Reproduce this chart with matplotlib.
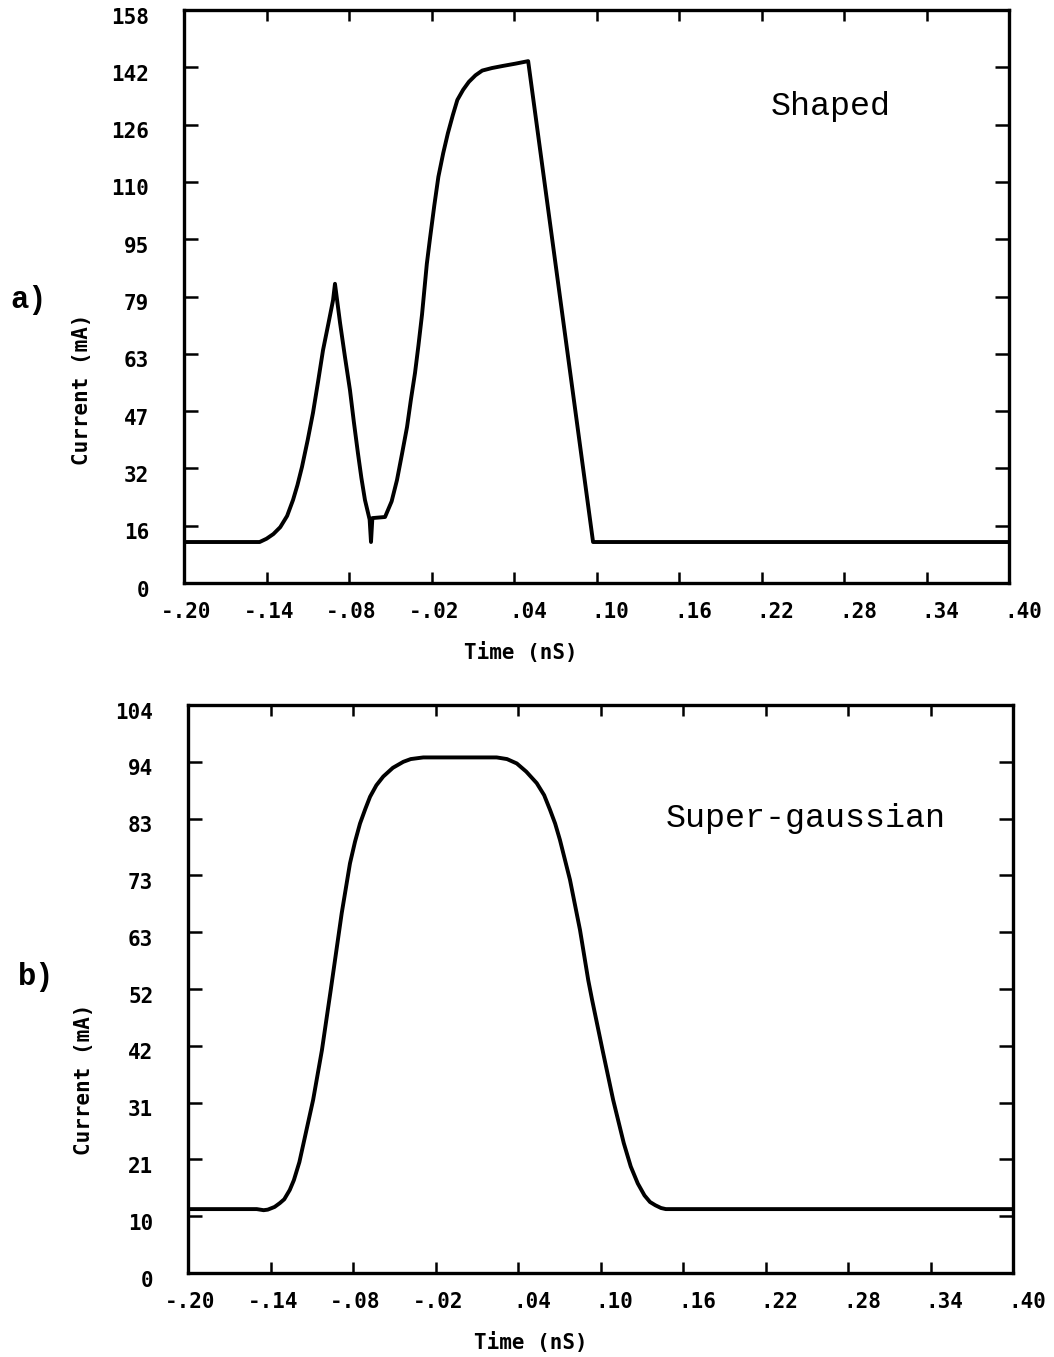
import matplotlib
matplotlib.use("Agg")
import matplotlib.pyplot as plt
from matplotlib.transforms import ScaledTranslation

# a) shaped pulse (time in nS, current in mA)
t_shaped = [-0.200, -0.145, -0.140, -0.135, -0.130, -0.125, -0.1207, -0.1175,
            -0.1142, -0.1100, -0.1062, -0.1025, -0.0989, -0.0950, -0.0916,
            -0.0902, -0.0865, -0.0830, -0.0793, -0.0765, -0.0735, -0.0710,
            -0.0684, -0.0650, -0.0640, -0.0630, -0.0538, -0.0490, -0.0451,
            -0.0415, -0.0378, -0.0350, -0.0320, -0.0295, -0.0269, -0.0234,
            -0.0211, -0.0180, -0.0150, -0.0115, -0.0081, -0.0045, -0.0012,
            0.0030, 0.0072, 0.0120, 0.0169, 0.0240, 0.0322, 0.0410, 0.0503,
            0.0975, 0.400]
i_shaped = [11.3, 11.3, 12.2, 13.5, 15.4, 18.5, 22.9, 27.0,
            32.0, 39.5, 46.9, 55.5, 64.2, 71.5, 78.0,
            82.5, 71.7, 62.5, 53.2, 44.5, 35.8, 29.0,
            22.9, 17.5, 11.3, 17.9, 18.2, 22.5, 28.4,
            35.5, 43.0, 50.5, 57.9, 65.5, 74.0, 88.0,
            95.0, 104.0, 112.0, 118.5, 124.0, 129.0, 133.2,
            136.0, 138.2, 140.0, 141.3, 142.0, 142.6, 143.2, 143.9,
            11.3, 11.3]

# b) super-gaussian pulse
t_sg = [-0.200, -0.150, -0.145, -0.142, -0.137, -0.1332, -0.130, -0.126,
        -0.1230, -0.1190, -0.1154, -0.1090, -0.1026, -0.0962, -0.0882,
        -0.0822, -0.0785, -0.0749, -0.0710, -0.0676, -0.0630, -0.0580,
        -0.0510, -0.0434, -0.0380, -0.0289, 0.0245, 0.0320, 0.0391,
        0.0460, 0.0536, 0.0590, 0.0633, 0.0670, 0.0705, 0.0778, 0.0851,
        0.0911, 0.0939, 0.1015, 0.1092, 0.1169, 0.1220, 0.1271, 0.1320,
        0.1360, 0.1399, 0.1440, 0.1475, 0.400]
i_sg = [11.7, 11.7, 11.5, 11.6, 12.1, 12.8, 13.5, 15.2,
        17.0, 20.3, 24.4, 31.7, 40.8, 51.8, 65.9,
        75.0, 79.0, 82.3, 85.0, 87.2, 89.3, 90.9,
        92.5, 93.6, 94.1, 94.4, 94.4, 94.1, 93.3,
        91.8, 89.7, 87.5, 84.8, 82.3, 79.3, 72.0, 62.8,
        53.6, 50.0, 40.8, 31.7, 23.8, 19.5, 16.4, 14.2,
        13.0, 12.4, 11.9, 11.7, 11.7]

x_ticks = [-0.20, -0.14, -0.08, -0.02, 0.04, 0.10, 0.16, 0.22, 0.28, 0.34, 0.40]
x_labels = ['-.20', '-.14', '-.08', '-.02', '.04', '.10', '.16', '.22', '.28', '.34', '.40']

a_yticks = [0, 15.8, 31.6, 47.4, 63.2, 79.0, 94.8, 110.6, 126.4, 142.2, 158.0]
a_ylabels = ['0', '16', '32', '47', '63', '79', '95', '110', '126', '142', '158']
b_yticks = [0, 10.4, 20.8, 31.2, 41.6, 52.0, 62.4, 72.8, 83.2, 93.6, 104.0]
b_ylabels = ['0', '10', '21', '31', '42', '52', '63', '73', '83', '94', '104']

W, H = 1054, 1357
fig = plt.figure(figsize=(W / 100, H / 100), dpi=100)

tickfont = dict(family='DejaVu Sans Mono', weight='bold', size=15)


def panel(left, top, right, bottom, t, cur, yticks, ylabels, note, note_xy):
    ax = fig.add_axes([left / W, 1 - bottom / H, (right - left) / W, (bottom - top) / H])
    ax.plot(t, cur, color='black', lw=2.8, solid_joinstyle='round')
    ax.set_xlim(-0.20, 0.40)
    ax.set_ylim(0, yticks[-1])
    for s in ax.spines.values():
        s.set_linewidth(2.4)
    ax.set_xticks(x_ticks)
    ax.set_xticklabels(x_labels, ha='left', **tickfont)
    ax.set_yticks(yticks)
    ax.set_yticklabels(ylabels, **tickfont)
    ax.tick_params(axis='x', direction='in', length=8, width=1.8, top=True, pad=14)
    ax.tick_params(axis='y', direction='in', length=10, width=1.8, right=True, pad=25)
    # put the decimal point under the tick, like the plotter did
    for lab, txt in zip(ax.get_xticklabels(), x_labels):
        dx = -16.5 if txt.startswith('-') else -3.6
        lab.set_transform(lab.get_transform() + ScaledTranslation(dx / 72, 0, fig.dpi_scale_trans))
    for lab in ax.get_yticklabels():
        lab.set_transform(lab.get_transform() + ScaledTranslation(0, -4 / 72, fig.dpi_scale_trans))
    ax.text(note_xy[0] / W, 1 - note_xy[1] / H, note, transform=fig.transFigure,
            family='Liberation Mono', size=24, va='center', ha='left')
    return ax


panel(184, 10, 1009, 583, t_shaped, i_shaped, a_yticks, a_ylabels, 'Shaped', (771, 106))
panel(188, 705, 1013, 1273, t_sg, i_sg, b_yticks, b_ylabels, 'Super-gaussian', (666, 818))

labfont = dict(family='DejaVu Sans Mono', weight='bold', size=15)
fig.text(521 / W, 1 - 652 / H, 'Time (nS)', ha='center', va='center', **labfont)
fig.text(531 / W, 1 - 1343 / H, 'Time (nS)', ha='center', va='center', **labfont)
fig.text(82 / W, 1 - 389 / H, 'Current (mA)', rotation=90, ha='center', va='center', **labfont)
fig.text(84 / W, 1 - 1079 / H, 'Current (mA)', rotation=90, ha='center', va='center', **labfont)

fig.text(29 / W, 1 - 300 / H, 'a)', family='Liberation Mono', weight='bold', size=22,
         ha='center', va='center')
fig.text(36 / W, 1 - 977 / H, 'b)', family='Liberation Mono', weight='bold', size=22,
         ha='center', va='center')

fig.savefig('out.png', dpi=100, facecolor='white')
